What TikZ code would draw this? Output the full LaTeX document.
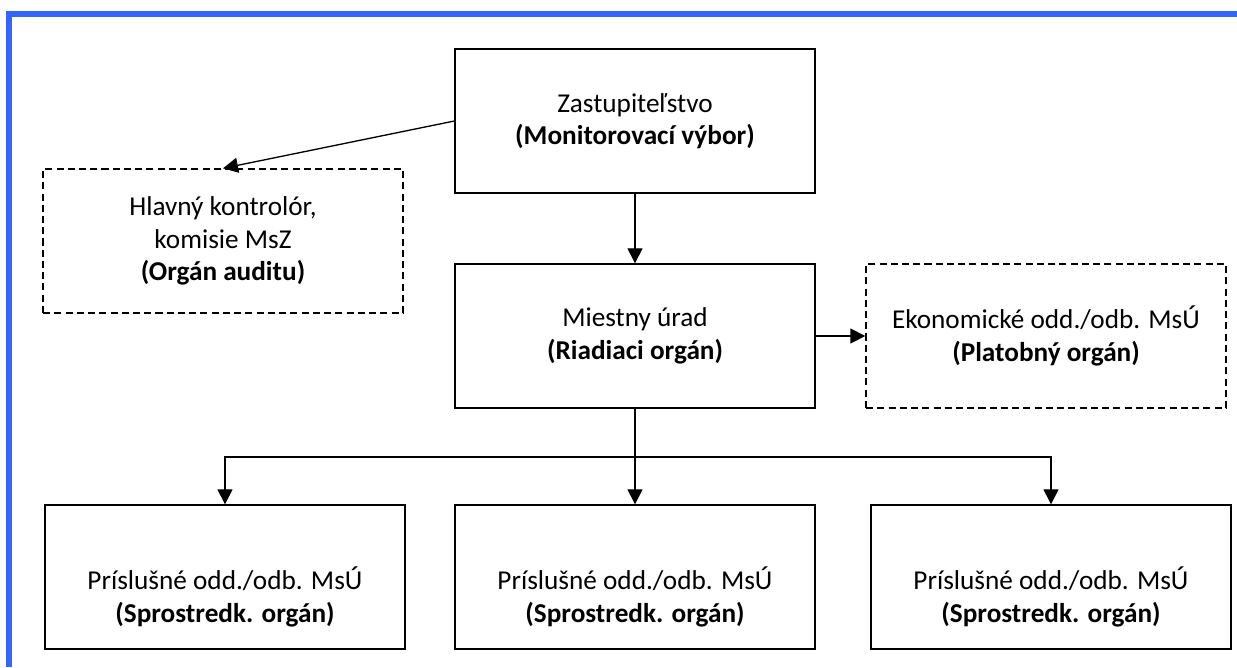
\documentclass[tikz,border=0pt]{standalone}
\usepackage{fontspec}
\setmainfont{Carlito}
\usetikzlibrary{arrows.meta}

\definecolor{framecol}{RGB}{51,102,255}
\newcommand{\lowstrut}{\rule{0pt}{1.25cm}}  % pushes the text of the lower boxes down

\begin{document}
\begin{tikzpicture}[
    x=0.02cm, y=-0.02cm,  % 1 unit = 1 px of the page, y runs downwards
    box/.style={draw, line width=0.8pt, minimum width=7.2cm, minimum height=2.88cm,
                align=center, font=\fontsize{15.5}{18.5}\selectfont},
    dashbox/.style={box, dash pattern=on 4pt off 2.4pt},
    link/.style={line width=0.75pt, -{Triangle[length=0.3cm, width=0.3cm]}},
    plain/.style={line width=0.75pt}
  ]
  % page size and the blue frame
  \useasboundingbox (0,0) rectangle (1237,667);
  \fill[framecol] (6,11) rectangle (1237,17);
  \fill[framecol] (6,11) rectangle (12,667);

  % boxes
  \node[box] (zast) at (635,121) {Zastupiteľstvo\\\textbf{(Monitorovací výbor)}};
  \node[dashbox] (kontrol) at (223,241) {Hlavný kontrolór,\\komisie MsZ\\\textbf{(Orgán auditu)}};
  \node[box] (urad) at (635,336) {Miestny úrad\\\textbf{(Riadiaci orgán)}};
  \node[dashbox] (ekon) at (1046,336) {Ekonomické odd./odb. MsÚ\\\textbf{(Platobný orgán)}};
  \node[box] (sprost1) at (225,577) {\lowstrut Príslušné odd./odb. MsÚ\\\textbf{(Sprostredk. orgán)}};
  \node[box] (sprost2) at (635,577) {\lowstrut Príslušné odd./odb. MsÚ\\\textbf{(Sprostredk. orgán)}};
  \node[box] (sprost3) at (1051,577) {\lowstrut Príslušné odd./odb. MsÚ\\\textbf{(Sprostredk. orgán)}};

  % connectors
  \draw[link] (zast.west) -- (kontrol.north);
  \draw[link] (zast.south) -- (urad.north);
  \draw[link] (urad.east) -- (ekon.west);
  \coordinate (split) at (urad.south |- 0,457);  % branch point
  \draw[plain] (urad.south) -- (split);
  \foreach \n in {sprost1,sprost2,sprost3}
    \draw[link] (split) -| (\n.north);
\end{tikzpicture}
\end{document}
